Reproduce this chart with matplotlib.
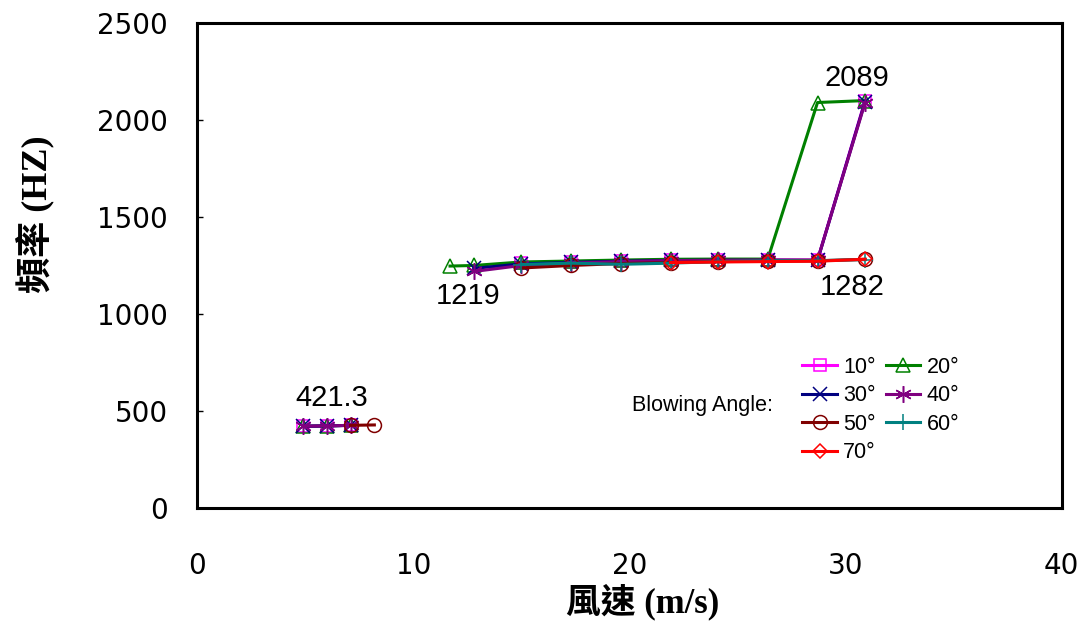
import matplotlib
matplotlib.use('Agg')
import matplotlib.pyplot as plt
import numpy as np

nan = np.nan

# wind speed (m/s), shared by every blowing angle
speed = [4.9, 6.0, 7.1, 8.2, 11.7, 12.8, 15.0, 17.3, 19.6, 21.9, 24.1, 26.4, 28.7, 30.9]

# frequency (Hz) per blowing angle, nan = not measured
f10 = [421.3, 423, 426, nan, nan, nan, 1262, 1268, 1272, 1276, 1278, 1278, 1278, 2100]
f20 = [421.3, 423, 426, nan, 1247, 1250, 1268, 1273, 1278, 1282, 1283, 1283, 2090, 2100]
f30 = [421.3, 423, 426, nan, nan, 1235, 1258, 1266, 1272, 1276, 1277, 1277, 1276, 2095]
f40 = [421.3, 423, 426, nan, nan, 1219, 1250, 1262, 1270, 1275, 1277, 1278, 1278, 2089]
f50 = [nan, nan, 426, 428, nan, nan, 1237, 1250, 1260, 1265, 1270, 1272, 1274, 1282]
f60 = [nan, nan, nan, nan, nan, nan, 1255, 1262, 1256, 1262, 1270, 1274, 1275, 1280]
f70 = [nan, nan, nan, nan, nan, nan, nan, nan, nan, 1265, 1268, 1270, 1272, 1282]

angles = ['10°', '20°', '30°', '40°', '50°', '60°', '70°']

fig = plt.figure(figsize=(10.89, 6.21), dpi=100)
ax = fig.add_axes([0.181, 0.182, 0.794, 0.781])

styles = [
    (f10, '#FF00FF', 's', 9),
    (f20, '#008000', '^', 10),
    (f30, '#000080', 'x', 10),
    (f40, '#800080', (6, 2, 0), 12),
    (f50, '#800000', 'o', 10),
    (f60, '#008080', '+', 12),
    (f70, '#FF0000', 'D', 7),
]

handles = []
for (vals, col, mk, ms), name in zip(styles, angles):
    h, = ax.plot(speed, vals, color=col, lw=2.2, marker=mk, ms=ms,
                 mfc='none', mec=col, mew=1.1, label=name)
    handles.append(h)

ax.set_xlim(0, 40)
ax.set_ylim(0, 2500)
ax.set_xticks([0, 10, 20, 30, 40])
ax.set_yticks([0, 500, 1000, 1500, 2000, 2500])
for s in ax.spines.values():
    s.set_linewidth(2.2)
ax.tick_params(axis='x', length=0, pad=32, labelsize=20)
ax.tick_params(axis='y', direction='in', length=4, width=1, pad=21, labelsize=20)

# data labels
lab = dict(fontsize=21, family='Liberation Sans', ha='center', va='center',
           textcoords='offset points')
ax.annotate(f'{f20[0]}', xy=(speed[0], f20[0]), xytext=(21, 20), **lab)
ax.annotate(f'{f40[5]:.0f}', xy=(speed[5], f40[5]), xytext=(-4, -18), **lab)
ax.annotate(f'{f50[13]:.0f}', xy=(speed[13], f50[13]), xytext=(-9, -20), **lab)
ax.annotate(f'{f40[13]:.0f}', xy=(speed[13], f40[13]), xytext=(-6, 18), **lab)

order = [0, 2, 4, 6, 1, 3, 5]
ax.legend([handles[i] for i in order], [angles[i] for i in order],
          ncol=2, loc='upper left', bbox_to_anchor=(0.70, 0.312), frameon=False,
          borderpad=0, borderaxespad=0, handlelength=1.6, handletextpad=0.3,
          columnspacing=0.45, labelspacing=0.35,
          prop={'family': 'Liberation Sans', 'size': 15.5})
ax.text(0.584, 0.212, 'Blowing Angle:', transform=ax.transAxes, ha='center',
        va='center', fontsize=15.5, family='Liberation Sans')

fam = ['Liberation Serif', 'Noto Sans CJK TC']
fig.text(0.032, 0.655, '頻率 (HZ)', rotation=90, ha='center', va='center',
         fontsize=26, fontweight='bold', family=fam)
fig.text(0.59, 0.03, '風速 (m/s)', ha='center', va='center',
         fontsize=25, fontweight='bold', family=fam)

fig.savefig('out.png', dpi=100)
